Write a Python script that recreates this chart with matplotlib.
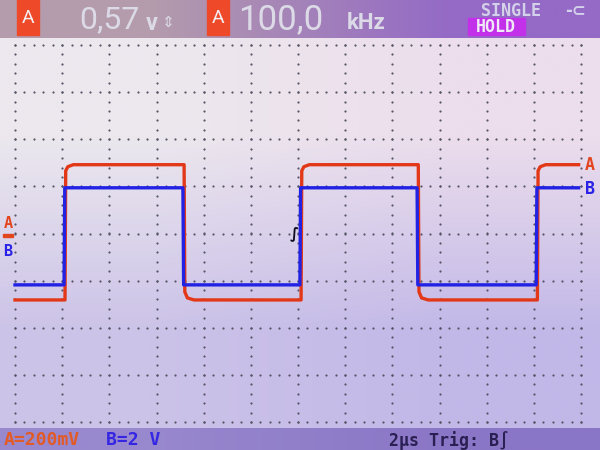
import numpy as np
import matplotlib.pyplot as plt
from matplotlib.patches import Rectangle

# readings shown on the scope
header_value = "0,57"
header_unit = "v"
header_freq = "100,0"
header_freq_unit = "kHz"
scale_a = "A=200mV"
scale_b = "B=2 V"
timebase = "2µs Trig: B∫"

# time base: 2 us/div, 12 divisions
us_per_div = 2.0
n_xdiv = 12
n_ydiv = 8

# edge times of the square wave (us), channel B; A lags slightly
edges_b = [2.08, 7.12, 12.08, 17.05, 22.10]
edges_a = [2.12, 7.17, 12.13, 17.10, 22.15]
t_end = 23.9

# channel A: volts, 0.2 V/div, ground at centre
a_high = 0.292
a_low = -0.282
a_vdiv = 0.2
a_ground_div = 0.0

# channel B: volts, 2 V/div, ground marker a bit below centre
b_high = 2.68
b_low = -1.44
b_vdiv = 2.0
b_ground_div = -0.37

# shape of channel A corners: (time after edge in us, fraction of the step)
a_rise_shape = [(0.03, 0.955), (0.12, 0.985), (0.35, 1.0)]
a_fall_shape = [(0.03, 0.94), (0.14, 0.985), (0.42, 1.0)]
b_shape = [(0.03, 1.0)]


def square(edges, low, high, t0, t1, rise_shape, fall_shape):
    t = [t0]
    v = [low]
    level = low
    for e in edges:
        t.append(e)
        v.append(level)
        if level == low:
            for dt, f in rise_shape:
                t.append(e + dt)
                v.append(low + (high - low) * f)
            level = high
        else:
            for dt, f in fall_shape:
                t.append(e + dt)
                v.append(high - (high - low) * f)
            level = low
    t.append(t1)
    v.append(level)
    return np.array(t), np.array(v)


fig = plt.figure(figsize=(6, 4.5), dpi=100)

# background (pixel coordinates)
bg = fig.add_axes([0, 0, 1, 1])
bg.axis('off')

screen = np.array([[[236, 232, 238], [236, 222, 236]],
                   [[204, 195, 232], [194, 184, 232]]]) / 255
bg.imshow(screen, extent=[0, 600, 428, 38], interpolation='bilinear', aspect='auto')
top = np.array([[[180, 156, 172], [148, 106, 198]]]) / 255
bg.imshow(top, extent=[0, 600, 38, 0], interpolation='bilinear', aspect='auto')
bottom = np.array([[[152, 136, 206], [138, 118, 198]]]) / 255
bg.imshow(bottom, extent=[0, 600, 450, 428], interpolation='bilinear', aspect='auto')
bg.set_xlim(0, 600)
bg.set_ylim(450, 0)

light = '#dcdae6'
mono = ['DejaVu Sans Mono', 'DejaVu Sans']
narrow = ['Roboto', 'DejaVu Sans']

# header
for x0 in (17, 207):
    bg.add_patch(Rectangle((x0, 0), 22, 35, color='#ee4a2a', zorder=3))
    bg.text(x0 + 11, 18, "A", color='#f4eef0', fontsize=14, family=narrow,
            ha='center', va='center', zorder=4)
bg.text(79, 20, header_value, color=light, fontsize=23, family=narrow,
        ha='left', va='center')
bg.text(146, 23, header_unit, color=light, fontsize=17, family=narrow,
        fontweight='bold', ha='left', va='center')
bg.text(168, 22, "⇕", color=light, fontsize=11, ha='center', va='center')
bg.text(238, 20, header_freq, color=light, fontsize=25, family=narrow,
        ha='left', va='center')
bg.text(347, 23, header_freq_unit, color=light, fontsize=16, family=narrow,
        fontweight='bold', ha='left', va='center')
bg.text(481, 11, "SINGLE", color='#d4d2ea', fontsize=12, family=mono,
        fontweight='bold', ha='left', va='center')
bg.text(576, 11, "-⊂", color='#d4d2ea', fontsize=12, family=['DejaVu Sans'],
        fontweight='bold', ha='center', va='center')
bg.add_patch(Rectangle((468, 18), 57, 17, color='#c230ea', zorder=3))
bg.text(496, 27, "HOLD", color='#f0e8f6', fontsize=12, family=mono,
        fontweight='bold', ha='center', va='center', zorder=4)

# footer
bg.text(4, 440, scale_a, color='#e25a26', fontsize=13, family=mono,
        fontweight='bold', ha='left', va='center')
bg.text(106, 440, scale_b, color='#3426e2', fontsize=13, family=mono,
        fontweight='bold', ha='left', va='center')
bg.text(389, 440, timebase, color='#2a1f52', fontsize=12, family=mono,
        fontweight='bold', ha='left', va='center')

# ground markers left, trace labels right
bg.text(8, 224, "A", color='#e2461e', fontsize=11, family=mono,
        fontweight='bold', ha='center', va='center')
bg.add_patch(Rectangle((3, 234), 10, 3, color='#e2461e'))
bg.text(8, 252, "B", color='#2a22e6', fontsize=11, family=mono,
        fontweight='bold', ha='center', va='center')
bg.text(590, 165, "A", color='#e2461e', fontsize=12, family=mono,
        fontweight='bold', ha='center', va='center')
bg.text(590, 189, "B", color='#2a22e6', fontsize=12, family=mono,
        fontweight='bold', ha='center', va='center')

# scope graticule area
ax = fig.add_axes([15 / 600, 1 - 422 / 450, 566 / 600, 377 / 450])
ax.set_facecolor('none')
ax.set_xlim(0, n_xdiv * us_per_div)
ax.set_ylim(-n_ydiv / 2, n_ydiv / 2)
ax.axis('off')

dot = '#555565'
ys = np.arange(-4, 4.001, 0.2)
xs = np.arange(0, n_xdiv * us_per_div + 0.001, 0.4)
for gx in np.arange(0, n_xdiv * us_per_div + 0.001, us_per_div):
    ax.scatter(np.full_like(ys, gx), ys, s=2.5, color=dot, lw=0, clip_on=False)
for gy in np.arange(-4, 4.001, 1):
    ax.scatter(xs, np.full_like(xs, gy), s=2.5, color=dot, lw=0, clip_on=False)

ta, va = square(edges_a, a_low, a_high, 0, t_end, a_rise_shape, a_fall_shape)
tb, vb = square(edges_b, b_low, b_high, 0, t_end, b_shape, b_shape)
ax.plot(ta, va / a_vdiv + a_ground_div, color='#e23818', lw=2.4, clip_on=False,
        solid_joinstyle='round')
ax.plot(tb, vb / b_vdiv + b_ground_div, color='#2222e4', lw=2.4, clip_on=False,
        solid_joinstyle='round')

# trigger point marker
ax.text(11.85, 0.0, "∫", color='#101020', fontsize=11, fontweight='bold',
        ha='center', va='center')

fig.savefig('out.png', dpi=100)
